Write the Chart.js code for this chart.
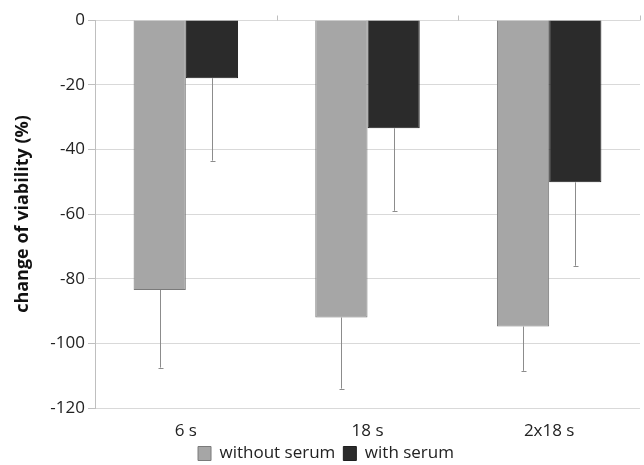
<!DOCTYPE html>
<html>
<head>
<meta charset="utf-8">
<script src="https://cdn.jsdelivr.net/npm/chart.js@4"></script>
<style>
  html, body { margin: 0; padding: 0; background: #fff; }
  #wrap { width: 644px; height: 465px; }
</style>
</head>
<body>
<div id="wrap"><canvas id="myChart"></canvas></div>
<script>
// categories and values
var categories = ["6 s", "18 s", "2x18 s"];
var withoutSerum = [-83.5, -92, -94.8];
var withSerum = [-18, -33.5, -50.2];
var errWithout = [24, 22, 13.7];
var errWith = [25.5, 25.5, 25.8];
var yTicks = [0, -20, -40, -60, -80, -100, -120];

// draws the one-sided (downward) error bars
var errorBars = {
  id: "errorBars",
  afterDatasetsDraw: function (chart) {
    var ctx = chart.ctx;
    var yScale = chart.scales.y;
    var errs = [errWithout, errWith];
    ctx.save();
    ctx.strokeStyle = "#8c8c8c";
    ctx.lineWidth = 1;
    chart.data.datasets.forEach(function (ds, di) {
      var meta = chart.getDatasetMeta(di);
      meta.data.forEach(function (bar, i) {
        var x = Math.round(bar.x) + 0.5;
        var y0 = yScale.getPixelForValue(ds.data[i]);
        var y1 = yScale.getPixelForValue(ds.data[i] - errs[di][i]);
        ctx.beginPath();
        ctx.moveTo(x, y0);
        ctx.lineTo(x, y1);
        ctx.moveTo(x - 2, Math.round(y1) + 0.5);
        ctx.lineTo(x + 3, Math.round(y1) + 0.5);
        ctx.stroke();
      });
    });
    // little tick marks between categories on the zero line
    var xScale = chart.scales.x;
    var yz = Math.round(yScale.getPixelForValue(0)) + 0.5;
    ctx.strokeStyle = "#bfbfbf";
    for (var k = 1; k <= categories.length; k++) {
      var xb = Math.round(xScale.left + (xScale.right - xScale.left) * k / categories.length) + 0.5;
      ctx.beginPath();
      ctx.moveTo(xb, yz);
      ctx.lineTo(xb, yz - 5);
      ctx.stroke();
    }
    ctx.restore();
  },
};

Chart.defaults.font.family = "'Open Sans', sans-serif";
Chart.defaults.color = "#222";

var ctx = document.getElementById("myChart").getContext("2d");
var myChart = new Chart(ctx, {
  type: "bar",
  data: {
    labels: categories,
    datasets: [
      {
        label: "without serum",
        data: withoutSerum,
        backgroundColor: "#a6a6a6",
        borderColor: "#7a7a7a",
        borderWidth: 1,
        borderSkipped: "start",
        categoryPercentage: 0.575,
        barPercentage: 1,
      },
      {
        label: "with serum",
        data: withSerum,
        backgroundColor: "#2b2b2b",
        borderColor: "#1e1e1e",
        borderWidth: 1,
        borderSkipped: "start",
        categoryPercentage: 0.575,
        barPercentage: 1,
      },
    ],
  },
  options: {
    responsive: true,
    maintainAspectRatio: false,
    animation: false,
    layout: { padding: { top: 20, right: 4, left: 12, bottom: -7 } },
    scales: {
      x: {
        grid: { display: false, drawTicks: false },
        border: { display: false },
        ticks: { font: { size: 17, lineHeight: 1 }, color: "#222", padding: 15 },
        afterFit: function (axis) {
          axis.height = 29;
        },
      },
      y: {
        min: -120,
        max: 0,
        afterBuildTicks: function (axis) {
          axis.ticks = yTicks.map(function (v) { return { value: v }; });
        },
        afterFit: function (axis) {
          axis.width = 83;
        },
        grid: { color: "#d9d9d9", tickLength: 7, tickColor: "#bfbfbf" },
        border: { color: "#bfbfbf" },
        ticks: { font: { size: 17 }, color: "#222", padding: 3 },
        title: {
          display: true,
          text: "change of viability (%)",
          font: { size: 18, weight: "bold" },
          color: "#111",
          padding: { top: 0, bottom: 2 },
        },
      },
    },
    plugins: {
      legend: {
        position: "bottom",
        labels: {
          boxWidth: 13,
          boxHeight: 14,
          font: { size: 17, lineHeight: 1 },
          color: "#222",
          padding: 8,
        },
      },
      tooltip: { enabled: false },
    },
  },
  plugins: [errorBars],
});
</script>
</body>
</html>
